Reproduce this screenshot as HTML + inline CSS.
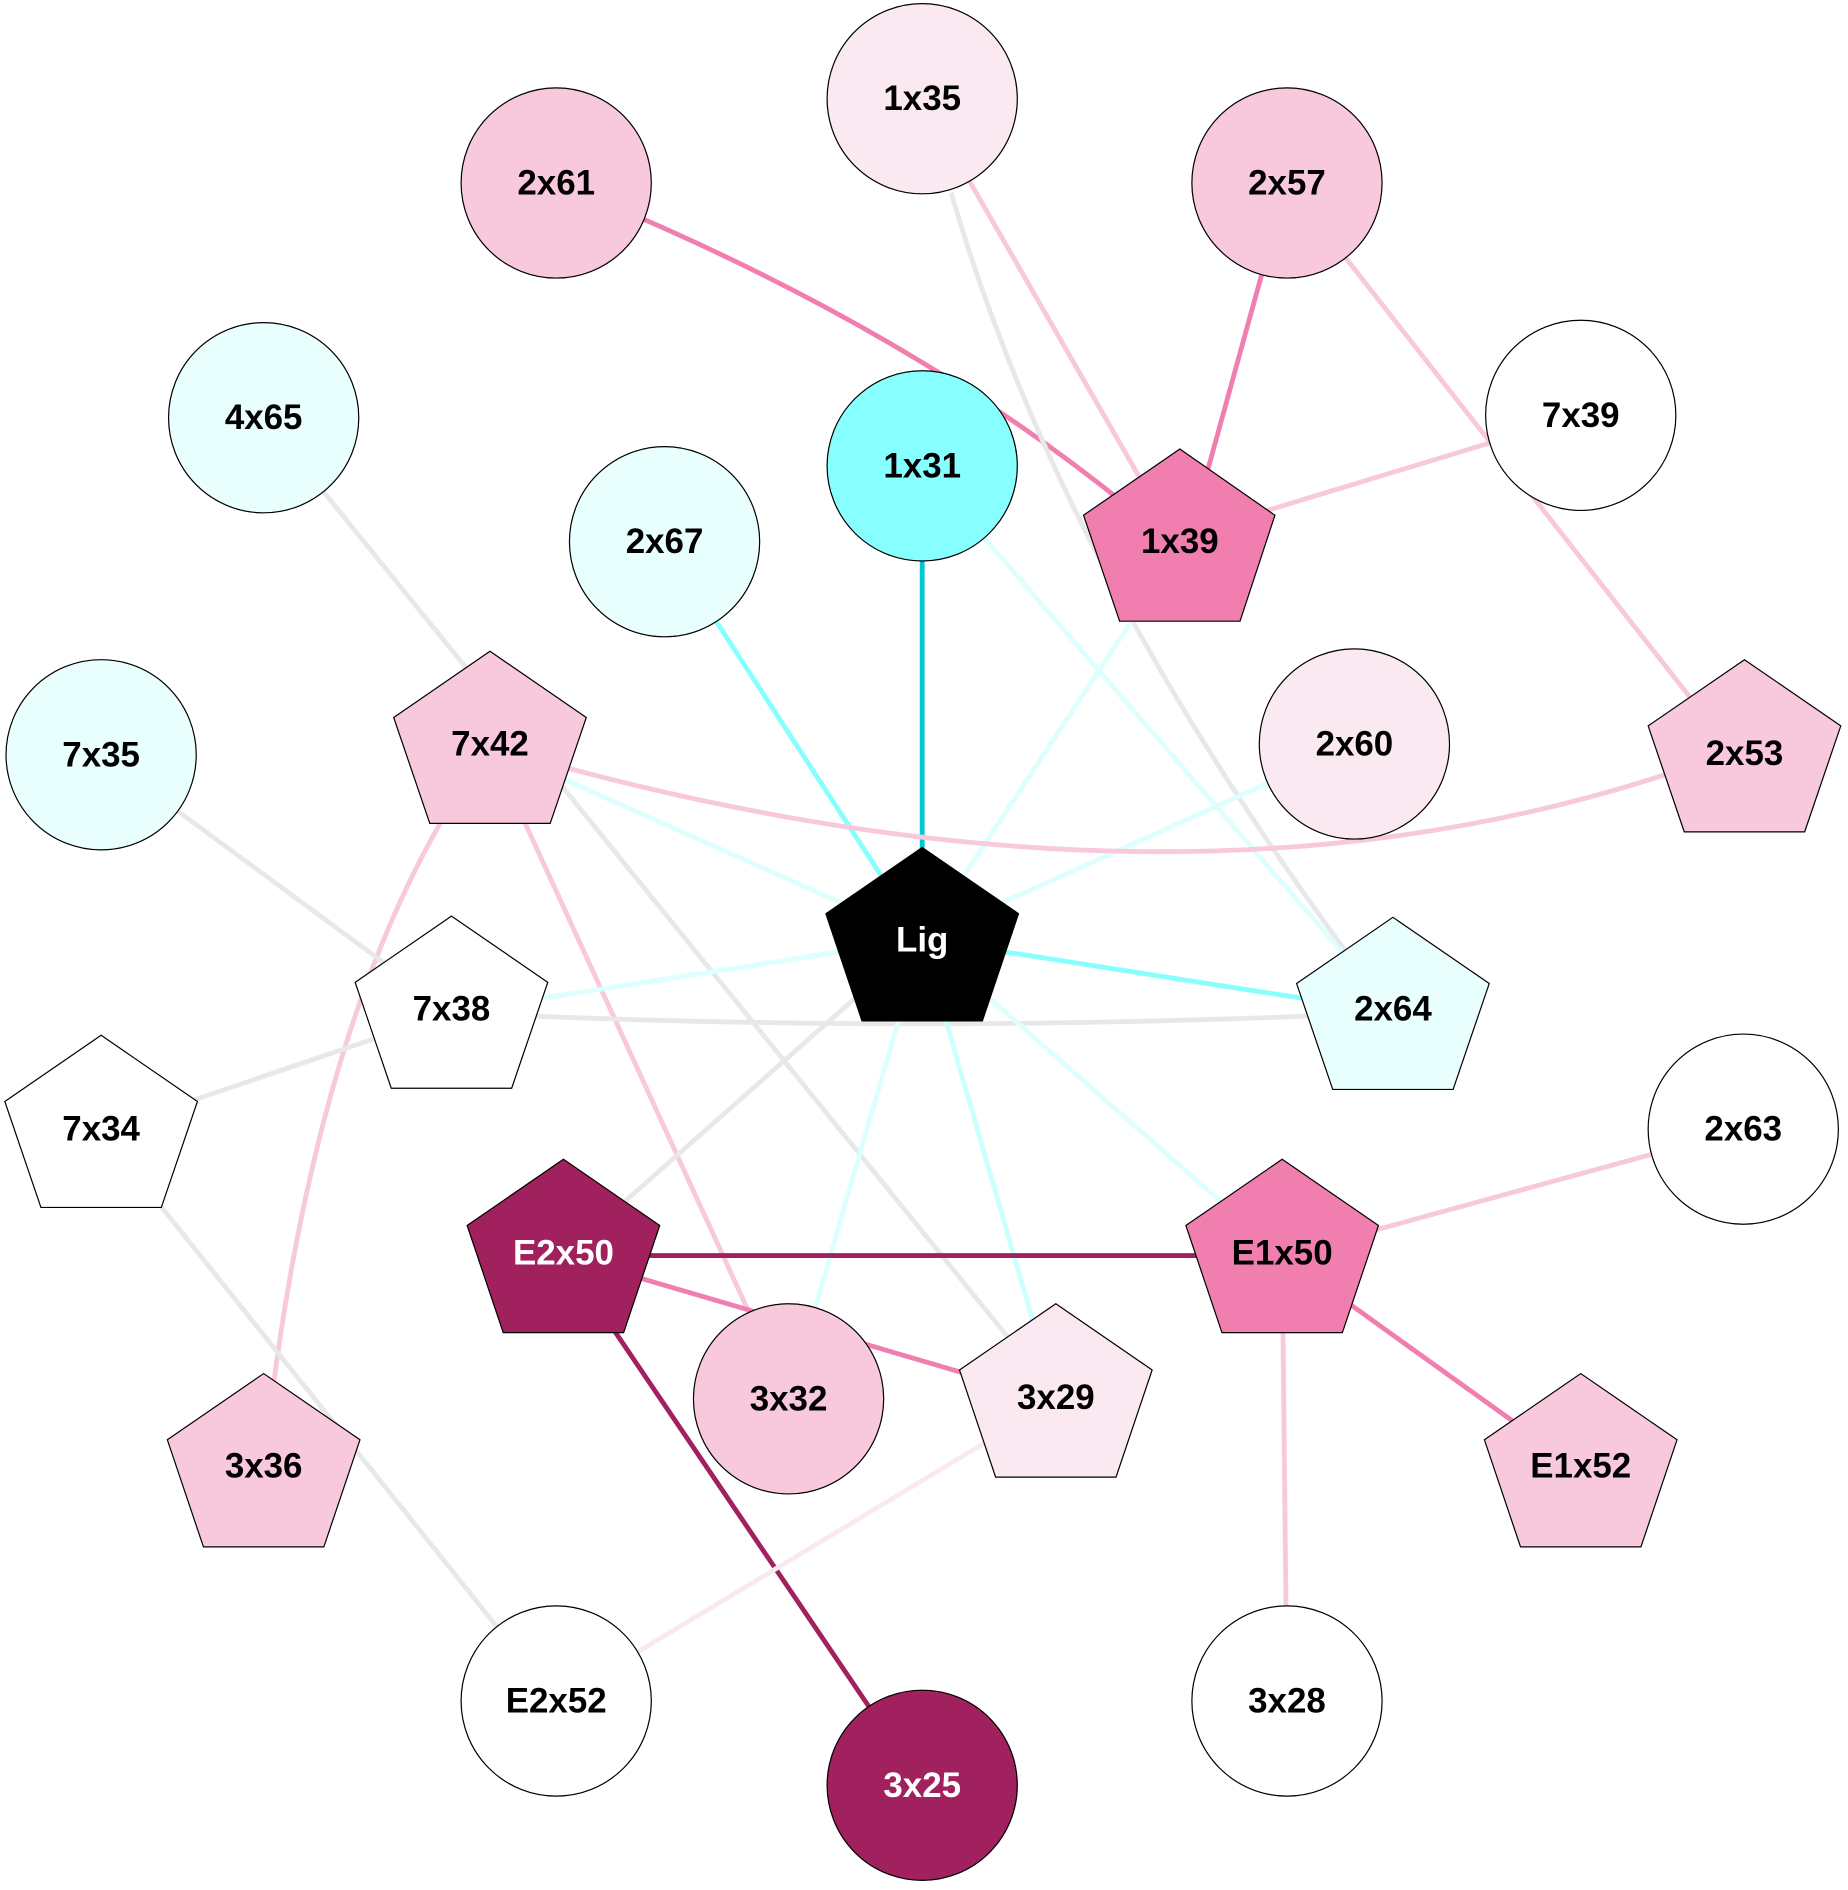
<!DOCTYPE html>
<html><head><meta charset="utf-8"><style>
html,body{margin:0;padding:0;background:#fff;}
svg{display:block;}
text{font-family:"Liberation Sans",Arial,sans-serif;font-weight:bold;font-size:29px;text-anchor:middle;dominant-baseline:central;}
</style></head><body>
<svg width="1848" height="1890" viewBox="0 0 1535 1570" preserveAspectRatio="none" xmlns="http://www.w3.org/2000/svg">
<g fill="none" stroke-width="4">
<path d="M462,152 Q760,270 960,440" stroke="#f07faf"/>
<line x1="1069" y1="152" x2="995" y2="420" stroke="#f07faf"/>
<line x1="766" y1="82" x2="960" y2="420" stroke="#f8c8dc"/>
<line x1="1313" y1="345" x2="1000" y2="440" stroke="#f8c8dc"/>
<path d="M790,160 Q880,470 1125,800" stroke="#e8e8e8"/>
<line x1="1069" y1="152" x2="1420" y2="600" stroke="#f8c8dc"/>
<line x1="766" y1="387" x2="766" y2="780" stroke="#00c8d0"/>
<line x1="552" y1="450" x2="766" y2="780" stroke="#88ffff"/>
<line x1="766" y1="387" x2="1140" y2="820" stroke="#ddfffe"/>
<line x1="980" y1="455" x2="766" y2="780" stroke="#ddfffe"/>
<line x1="1125" y1="618" x2="766" y2="780" stroke="#ddfffe"/>
<path d="M407,620 Q1000,795 1449,620" stroke="#f8c8dc"/>
<line x1="407" y1="620" x2="766" y2="780" stroke="#ddfffe"/>
<path d="M407,620 Q260,820 219,1220" stroke="#f8c8dc"/>
<line x1="407" y1="620" x2="655" y2="1162" stroke="#f8c8dc"/>
<line x1="219" y1="347" x2="877" y2="1160" stroke="#e8e8e8"/>
<line x1="84" y1="627" x2="375" y2="841" stroke="#e8e8e8"/>
<line x1="375" y1="841" x2="766" y2="780" stroke="#ddfffe"/>
<path d="M375,841 Q760,860 1157,841" stroke="#e8e8e8"/>
<line x1="766" y1="780" x2="1157" y2="841" stroke="#88ffff"/>
<line x1="84" y1="940" x2="375" y2="841" stroke="#e8e8e8"/>
<line x1="84" y1="940" x2="462" y2="1413" stroke="#e8e8e8"/>
<line x1="766" y1="780" x2="468" y2="1043" stroke="#e8e8e8"/>
<line x1="766" y1="780" x2="655" y2="1162" stroke="#ddfffe"/>
<line x1="766" y1="780" x2="877" y2="1163" stroke="#ccffff"/>
<line x1="766" y1="780" x2="1065" y2="1043" stroke="#ddfffe"/>
<line x1="468" y1="1043" x2="1065" y2="1043" stroke="#a0215e"/>
<line x1="468" y1="1043" x2="877" y2="1163" stroke="#f07faf"/>
<line x1="468" y1="1043" x2="766" y2="1483" stroke="#a0215e"/>
<line x1="1065" y1="1043" x2="1448" y2="938" stroke="#f8c8dc"/>
<line x1="1065" y1="1043" x2="1313" y2="1221" stroke="#f07faf"/>
<line x1="1065" y1="1043" x2="1069" y2="1413" stroke="#f8c8dc"/>
<line x1="877" y1="1163" x2="462" y2="1413" stroke="#fbe9f1"/>
</g>
<g stroke="#000" stroke-width="1">
<circle cx="766" cy="82" r="79" fill="#fbe9f1"/>
<circle cx="462" cy="152" r="79" fill="#f8c8dc"/>
<circle cx="1069" cy="152" r="79" fill="#f8c8dc"/>
<circle cx="219" cy="347" r="79" fill="#e8fffe"/>
<circle cx="1313" cy="345" r="79" fill="#fff"/>
<circle cx="766" cy="387" r="79" fill="#88ffff"/>
<circle cx="552" cy="450" r="79" fill="#e8fffe"/>
<circle cx="1125" cy="618" r="79" fill="#fbe9f1"/>
<circle cx="84" cy="627" r="79" fill="#e8fffe"/>
<circle cx="1448" cy="938" r="79" fill="#fff"/>
<circle cx="655" cy="1162" r="79" fill="#f8c8dc"/>
<circle cx="462" cy="1413" r="79" fill="#fff"/>
<circle cx="1069" cy="1413" r="79" fill="#fff"/>
<circle cx="766" cy="1483" r="79" fill="#a0215e"/>
<polygon points="980,373 1059,428 1030,516 930,516 900,428" fill="#f07faf"/>
<polygon points="407,541 487,596 457,684 357,684 327,596" fill="#f8c8dc"/>
<polygon points="1449,548 1529,603 1499,691 1399,691 1369,603" fill="#f8c8dc"/>
<polygon points="766,704 846,759 816,848 716,848 686,759" fill="#000"/>
<polygon points="375,761 455,816 425,904 325,904 295,816" fill="#fff"/>
<polygon points="1157,762 1237,817 1207,905 1107,905 1077,817" fill="#e8fffe"/>
<polygon points="84,860 164,915 134,1003 34,1003 4,915" fill="#fff"/>
<polygon points="468,963 548,1018 518,1107 418,1107 388,1018" fill="#a0215e"/>
<polygon points="1065,963 1145,1018 1115,1107 1015,1107 985,1018" fill="#f07faf"/>
<polygon points="877,1083 957,1138 927,1227 827,1227 797,1138" fill="#fbe9f1"/>
<polygon points="219,1141 299,1196 269,1285 169,1285 139,1196" fill="#f8c8dc"/>
<polygon points="1313,1141 1393,1196 1363,1285 1263,1285 1233,1196" fill="#f8c8dc"/>
</g>
<g fill="#000">
<text x="766" y="82">1x35</text>
<text x="462" y="152">2x61</text>
<text x="1069" y="152">2x57</text>
<text x="219" y="347">4x65</text>
<text x="1313" y="345">7x39</text>
<text x="766" y="387">1x31</text>
<text x="552" y="450">2x67</text>
<text x="1125" y="618">2x60</text>
<text x="84" y="627">7x35</text>
<text x="1448" y="938">2x63</text>
<text x="655" y="1162">3x32</text>
<text x="462" y="1413">E2x52</text>
<text x="1069" y="1413">3x28</text>
<text x="980" y="450">1x39</text>
<text x="407" y="618">7x42</text>
<text x="1449" y="626">2x53</text>
<text x="375" y="838">7x38</text>
<text x="1157" y="838">2x64</text>
<text x="84" y="938">7x34</text>
<text x="1065" y="1041">E1x50</text>
<text x="877" y="1161">3x29</text>
<text x="219" y="1218">3x36</text>
<text x="1313" y="1218">E1x52</text>
</g>
<g fill="#fff">
<text x="766" y="781">Lig</text>
<text x="468" y="1041">E2x50</text>
<text x="766" y="1483">3x25</text>
</g>
</svg>
</body></html>
